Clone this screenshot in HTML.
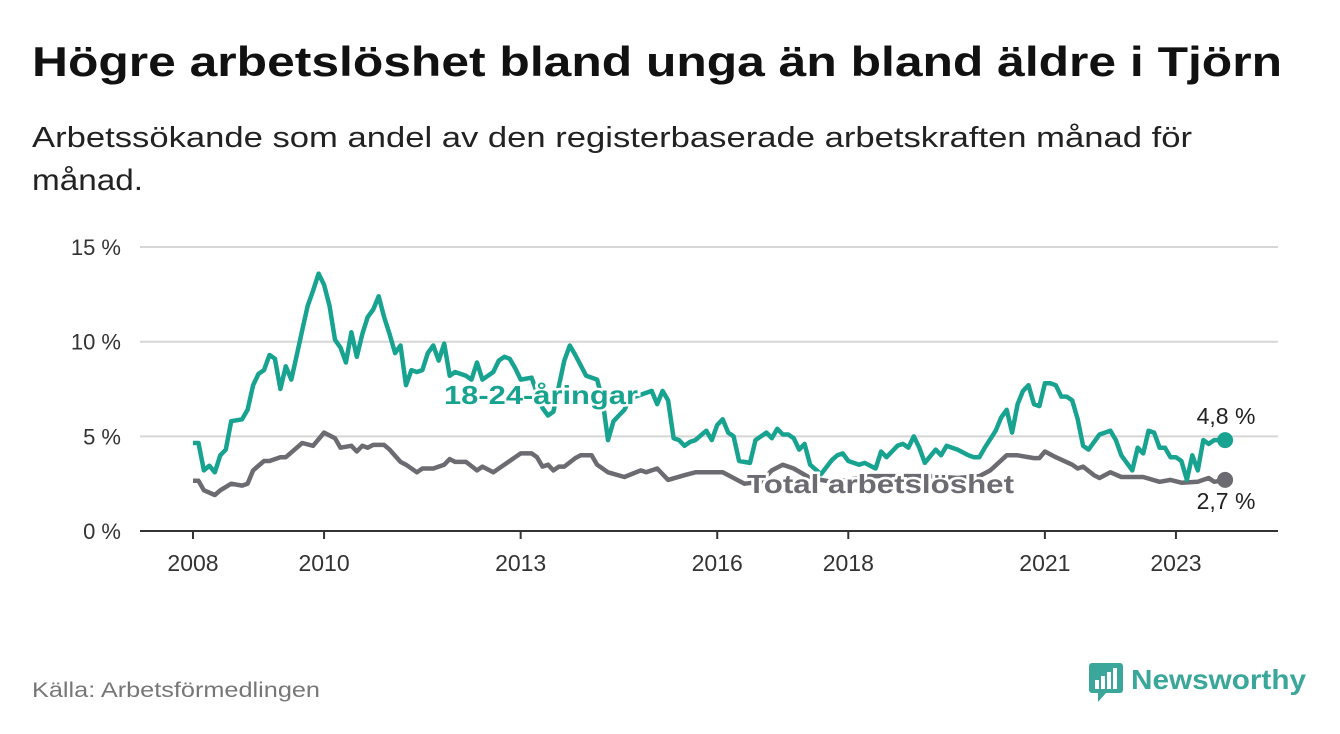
<!DOCTYPE html>
<html><head><meta charset="utf-8"><style>
body{margin:0;background:#fff;}
svg{display:block;font-family:"Liberation Sans","DejaVu Sans",sans-serif;}
</style></head><body>
<svg id="chart" width="1340" height="734" viewBox="0 0 1340 734">
<text x="32" y="76" font-size="42" font-weight="bold" fill="#111" textLength="1250" lengthAdjust="spacingAndGlyphs">Högre arbetslöshet bland unga än bland äldre i Tjörn</text>
<text x="32" y="147" font-size="29" fill="#222" textLength="1160" lengthAdjust="spacingAndGlyphs">Arbetssökande som andel av den registerbaserade arbetskraften månad för</text>
<text x="32" y="190" font-size="30" fill="#222" textLength="111" lengthAdjust="spacingAndGlyphs">månad.</text>
<g id="grid"></g><g id="xaxis"></g><g id="series"></g>
<text x="32" y="697" font-size="21" fill="#777" textLength="288" lengthAdjust="spacingAndGlyphs">Källa: Arbetsförmedlingen</text>
<g>
<rect x="1089" y="663" width="34" height="30" rx="3" fill="#3aa79a"/>
<polygon points="1098,693 1106,693 1098,702" fill="#3aa79a"/>
<rect x="1095" y="680" width="4" height="9" fill="#fff"/><rect x="1101" y="676" width="4" height="13" fill="#fff"/><rect x="1107" y="672" width="4" height="17" fill="#fff"/><rect x="1113" y="668" width="4" height="21" fill="#fff"/>
<text x="1131" y="689" font-size="28" font-weight="bold" fill="#3aa79a" textLength="175" lengthAdjust="spacingAndGlyphs">Newsworthy</text>
</g>
</svg>
<script>
const yTicks=[0,5,10,15];
const yTickLabels=["0 %","5 %","10 %","15 %"];
const xTickYears=[2008,2010,2013,2016,2018,2021,2023];
const youthMonths=[0,1,2,3,4,5,6,7,9,10,11,12,13,14,15,16,17,18,19,20,21,22,23,24,25,26,27,28,29,30,31,32,33,34,35,36,37,38,39,40,41,42,43,44,45,46,47,48,50,51,52,53,54,55,56,57,58,59,60,62,64,65,66,68,69,70,72,74,75,76,77,78,79,80,82,84,85,86,87,88,89,90,91,92,94,95,96,97,98,99,100,102,103,105,106,107,108,109,110,111,112,113,115,117,118,119,120,122,123,125,126,127,129,130,131,132,133,134,136,137,138,139,140,142,143,144,145,147,148,149,150,151,152,153,154,155,156,157,158,159,160,161,162,163,164,166,168,169,170,172,173,174,175,176,177,178,179,180,181,182,183,184,185,186,187,189];
const youthValues=[4.65,4.65,3.2,3.45,3.1,4.0,4.3,5.8,5.9,6.4,7.7,8.3,8.5,9.3,9.1,7.5,8.7,8.0,9.3,10.6,11.9,12.7,13.6,13.0,11.9,10.1,9.7,8.9,10.5,9.2,10.4,11.3,11.7,12.4,11.3,10.4,9.4,9.8,7.7,8.5,8.4,8.5,9.4,9.8,9.0,9.9,8.2,8.4,8.2,8.0,8.9,8.0,8.2,8.4,9.0,9.2,9.1,8.6,8.0,8.1,6.5,6.1,6.3,9.0,9.8,9.3,8.2,8.0,6.9,4.8,5.8,6.1,6.4,7.0,7.2,7.4,6.7,7.4,6.9,4.9,4.8,4.5,4.7,4.8,5.3,4.8,5.6,5.9,5.2,5.0,3.7,3.6,4.8,5.2,4.9,5.4,5.1,5.1,4.9,4.3,4.6,3.5,3.0,3.75,4.0,4.1,3.7,3.5,3.6,3.3,4.2,3.9,4.5,4.6,4.4,5.0,4.4,3.6,4.3,4.0,4.5,4.4,4.3,4.0,3.9,3.9,4.4,5.3,6.0,6.4,5.2,6.7,7.4,7.7,6.7,6.6,7.8,7.8,7.7,7.1,7.1,6.9,5.9,4.5,4.3,5.1,5.3,4.8,4.0,3.2,4.4,4.1,5.3,5.2,4.4,4.4,3.9,3.9,3.7,2.7,4.0,3.2,4.8,4.6,4.8,4.8];
const totalMonths=[0,1,2,4,5,7,9,10,11,13,14,16,17,19,20,22,24,26,27,29,30,31,32,33,35,36,38,39,41,42,44,46,47,48,50,52,53,55,57,59,60,62,63,64,65,66,67,68,70,71,73,74,76,79,82,83,85,87,90,92,97,99,101,104,106,108,110,113,117,120,124,129,135,140,144,146,149,151,154,155,156,158,161,162,163,165,166,168,170,174,177,179,181,184,186,187,189];
const totalValues=[2.65,2.65,2.15,1.9,2.15,2.5,2.4,2.5,3.2,3.7,3.7,3.9,3.9,4.4,4.65,4.5,5.2,4.9,4.4,4.5,4.2,4.5,4.4,4.55,4.55,4.3,3.65,3.5,3.1,3.3,3.3,3.5,3.8,3.65,3.65,3.2,3.4,3.1,3.5,3.9,4.1,4.1,3.9,3.4,3.5,3.2,3.4,3.4,3.85,4.0,4.0,3.5,3.1,2.85,3.2,3.1,3.3,2.7,2.95,3.1,3.1,2.8,2.5,2.6,3.2,3.5,3.3,2.8,2.6,2.7,2.9,2.9,2.9,2.8,2.9,3.2,4.0,4.0,3.85,3.85,4.2,3.9,3.5,3.3,3.4,2.95,2.8,3.1,2.85,2.85,2.6,2.7,2.55,2.6,2.8,2.6,2.7];

const NS="http://www.w3.org/2000/svg";
const x0=193, pxPerYear=65.53, y0=531, pxPerPct=18.93;
const xScale=m=>x0+m*pxPerYear/12;
const yScale=v=>y0-v*pxPerPct;
function mk(tag,attrs,parent){const e=document.createElementNS(NS,tag);for(const k in attrs)e.setAttribute(k,attrs[k]);parent.appendChild(e);return e;}
const grid=document.getElementById('grid');
yTicks.forEach((t,i)=>{
  const l=mk('line',{x1:140,x2:1278,y1:yScale(t),y2:yScale(t),stroke:t===0?'#333':'#d6d6d6','stroke-width':2},grid);
  
  
  const tx=mk('text',{x:121,y:yScale(t)+8,'text-anchor':'end','font-size':22,fill:'#333'},grid);
  tx.textContent=yTickLabels[i];
  
  
});
const xa=document.getElementById('xaxis');
xTickYears.forEach(yr=>{
  const x=xScale((yr-2008)*12);
  const tk=mk('line',{x1:x,x2:x,y1:531,y2:539,stroke:'#333','stroke-width':2},xa);
  
  
  const tx=mk('text',{x:x,y:571,'text-anchor':'middle','font-size':23,fill:'#333'},xa);
  tx.textContent=String(yr);
  
  
});
const sg=document.getElementById('series');
function line(ms,vs,col,name){
  const d=ms.map((m,i)=>(i?'L':'M')+xScale(m).toFixed(1)+','+yScale(vs[i]).toFixed(1)).join('');
  const p=mk('path',{d:d,fill:'none',stroke:col,'stroke-width':4.5,'stroke-linejoin':'round'},sg);
  
  
  const n=ms.length-1;
  const c=mk('circle',{cx:xScale(ms[n]),cy:yScale(vs[n]),r:8,fill:col},sg);
  
  
}
line(totalMonths,totalValues,'#6c6b71','total-line');
line(youthMonths,youthValues,'#18a391','youth-line');
function lab(txt,x,y,col,size,bold,name,anchor,len){
  const a={x:x,y:y,fill:col,'font-size':size,'font-weight':bold?'bold':'normal',stroke:'#fff','stroke-width':5,'paint-order':'stroke','text-anchor':anchor||'start'};
  if(len){a.textLength=len;a.lengthAdjust='spacingAndGlyphs';}
  const t=mk('text',a,sg);
  t.textContent=txt;
  
  
}
lab('18-24-åringar',444,404,'#18a391',26,true,'youth-series-label','start',194);
lab('Total arbetslöshet',747,493,'#6c6b71',26,true,'total-series-label','start',267);
lab('4,8 %',1226,424,'#222',23,false,'youth-end-label','middle');
lab('2,7 %',1226,509,'#222',23,false,'total-end-label','middle');
</script>
</body></html>
